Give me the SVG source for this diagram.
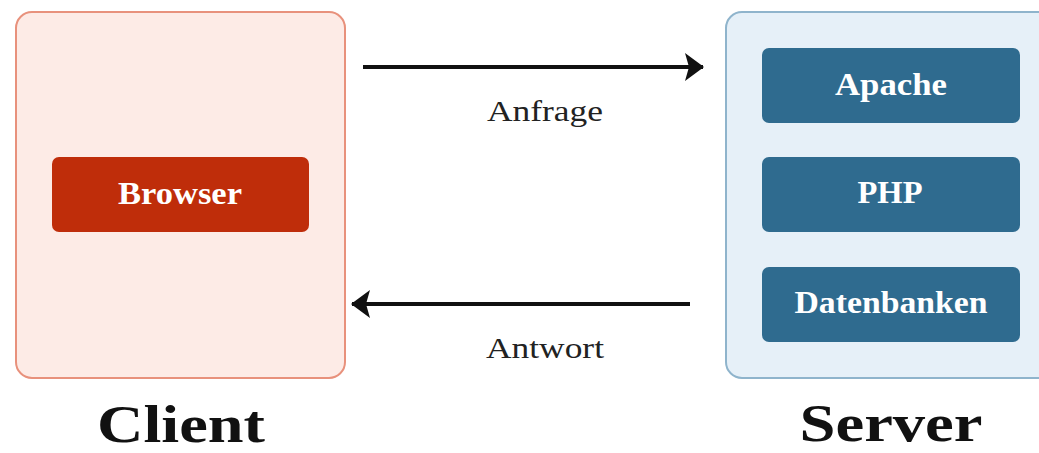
<svg xmlns="http://www.w3.org/2000/svg" width="1039" height="453" viewBox="0 0 1039 453">
<style>
text{font-family:"Liberation Serif","Times New Roman",serif;text-anchor:middle}
.lbl{font-size:32px;font-weight:bold;fill:#fff}
.edge{font-size:30px;fill:#222}
.title{font-size:53px;font-weight:bold;fill:#111}
.conn{stroke:#111;stroke-width:4;fill:none}
.svc{fill:#2f6b8f}
</style>
<defs>
<marker id="ah" markerUnits="userSpaceOnUse" markerWidth="20" markerHeight="30" refX="18" refY="15" orient="auto">
<path d="M0,1 L19,15 L0,29 L4,15 Z" fill="#111"/>
</marker>
</defs>
<rect width="1039" height="453" fill="#fff"/>
<g id="client">
<rect x="16" y="12" width="329" height="366" rx="16" fill="#fdebe6" stroke="#e8917c" stroke-width="2"/>
<text class="title" x="181" y="442" textLength="168" lengthAdjust="spacingAndGlyphs">Client</text>
</g>
<g id="browser">
<rect x="52" y="157" width="257" height="75" rx="7" fill="#bf2d0a"/>
<text class="lbl" x="180" y="204" textLength="124" lengthAdjust="spacingAndGlyphs">Browser</text>
</g>
<g id="server">
<rect x="726" y="12" width="330" height="366" rx="16" fill="#e6f0f8" stroke="#8fb4cc" stroke-width="2"/>
<text class="title" x="891" y="441" textLength="183" lengthAdjust="spacingAndGlyphs">Server</text>
</g>
<g id="apache">
<rect class="svc" x="762" y="48" width="258" height="75" rx="7"/>
<text class="lbl" x="891" y="95" textLength="112" lengthAdjust="spacingAndGlyphs">Apache</text>
</g>
<g id="php">
<rect class="svc" x="762" y="157" width="258" height="75" rx="7"/>
<text class="lbl" x="890" y="203" textLength="65" lengthAdjust="spacingAndGlyphs">PHP</text>
</g>
<g id="datenbanken">
<rect class="svc" x="762" y="267" width="258" height="75" rx="7"/>
<text class="lbl" x="891" y="313" textLength="193" lengthAdjust="spacingAndGlyphs">Datenbanken</text>
</g>
<g id="connectors">
<line class="conn" x1="363" y1="67" x2="703" y2="67" marker-end="url(#ah)"/>
<text class="edge" x="545" y="121" textLength="116" lengthAdjust="spacingAndGlyphs">Anfrage</text>
<line class="conn" x1="690" y1="304" x2="352" y2="304" marker-end="url(#ah)"/>
<text class="edge" x="545" y="358" textLength="118" lengthAdjust="spacingAndGlyphs">Antwort</text>
</g>
</svg>
